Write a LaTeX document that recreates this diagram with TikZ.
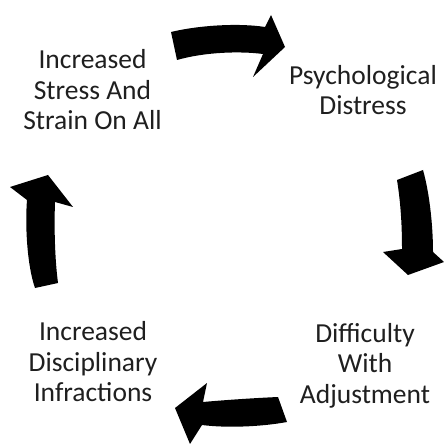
\documentclass[tikz,border=0pt]{standalone}
\usepackage{fontspec}
\setmainfont{Carlito}
\begin{document}
\begin{tikzpicture}[x=1bp,y=-1bp,
  stagetext/.style={align=center,inner sep=0pt,anchor=south,text=black!88,
    font=\fontsize{27.5bp}{30.5bp}\selectfont},
  bentarrow/.style={fill=black,draw=none}]
\useasboundingbox (0,0) rectangle (444,444);
\fill[white] (0,0) rectangle (444,444);

% the four stages of the cycle (placed by the bottom of their last line)
\node[stagetext] (stress) at (92.5,130) {Increased\\Stress And\\Strain On All};
\node[stagetext] (distress) at (363,115) {Psychological\\Distress};
\node[stagetext] (adjust) at (365,408) {Difficulty\\With\\Adjustment};
\node[stagetext] (infract) at (93,402) {Increased\\Disciplinary\\Infractions};

% curved block arrows running clockwise between the stages
\fill[bentarrow] (171,32) .. controls (200,25) and (240,23) .. (265,27)
  -- (271,15) -- (285,47) -- (253,77) -- (263,54)
  .. controls (240,51) and (205,52) .. (177,60) -- cycle;
\fill[bentarrow] (397,180) .. controls (401,205) and (402,228) .. (402,249)
  -- (383,252) -- (408,275) -- (444,262) -- (433,252)
  .. controls (433,228) and (430,195) .. (423,170) -- cycle;
\fill[bentarrow] (278,397) .. controls (255,398) and (225,400) .. (203,402)
  -- (207,383) -- (175,408) -- (190,444) -- (202,425)
  .. controls (225,428) and (260,427) .. (287,422) -- cycle;
\fill[bentarrow] (35,288) .. controls (27,265) and (25,225) .. (27,200)
  -- (10,187) -- (48,175) -- (73,207) -- (55,202)
  .. controls (54,230) and (55,260) .. (58,283) -- cycle;
\end{tikzpicture}
\end{document}
